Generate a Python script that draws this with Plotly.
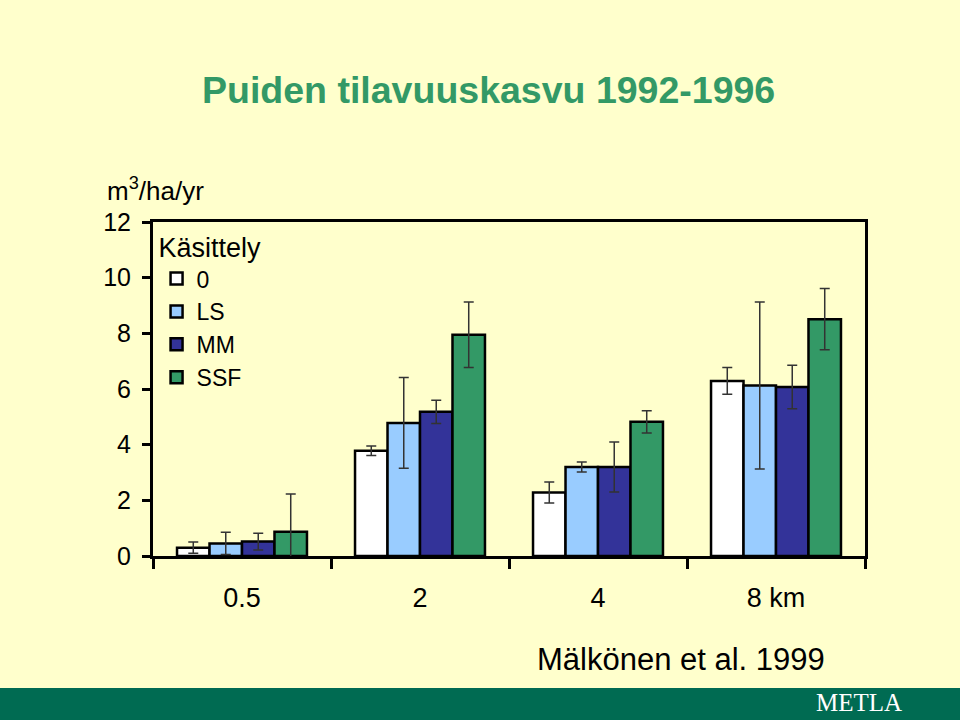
import plotly.graph_objects as go

categories = ["0.5", "2", "4", "8 km"]
series_names = ["0", "LS", "MM", "SSF"]
values_0 = [0.30, 3.78, 2.28, 6.29]
values_LS = [0.45, 4.78, 3.20, 6.13]
values_MM = [0.52, 5.18, 3.20, 6.07]
values_SSF = [0.87, 7.95, 4.82, 8.51]
err_0 = [0.20, 0.17, 0.38, 0.48]
err_LS = [0.40, 1.63, 0.18, 3.00]
err_MM = [0.30, 0.42, 0.90, 0.78]
err_SSF = [1.36, 1.18, 0.40, 1.10]
colors = ["#FFFFFF", "#99CCFF", "#333399", "#339966"]

BG = "#FFFFCC"
FONT = "Liberation Sans, Arial, sans-serif"

fig = go.Figure()
for name, vals, errs, col in zip(series_names,
                                 [values_0, values_LS, values_MM, values_SSF],
                                 [err_0, err_LS, err_MM, err_SSF], colors):
    fig.add_trace(go.Bar(
        x=categories, y=vals, name=name,
        marker=dict(color=col, line=dict(color="black", width=2.5)),
        error_y=dict(type="data", array=errs, visible=True,
                     color="#333333", thickness=1.5, width=5),
    ))

fig.update_layout(
    width=960, height=720,
    paper_bgcolor=BG, plot_bgcolor=BG,
    margin=dict(l=153, r=95, t=222, b=164, autoexpand=False),
    barmode="group", bargap=0.27, bargroupgap=0,
    font=dict(family=FONT, color="black", size=24),
    title=dict(text="<b>Puiden tilavuuskasvu 1992-1996</b>",
               x=0.509, xanchor="center", y=0.875, yanchor="middle",
               font=dict(family=FONT, size=37.5, color="#339966")),
    showlegend=True,
    legend=dict(
        title=dict(text="Käsittely", font=dict(size=27)),
        font=dict(size=23),
        x=0.005, y=1.0, xanchor="left", yanchor="top",
        bgcolor="rgba(0,0,0,0)", borderwidth=0,
        tracegroupgap=0,
    ),
    xaxis=dict(
        type="category", showline=True, linecolor="black", linewidth=3,
        mirror=True, ticks="outside", tickson="boundaries", ticklen=10,
        tickwidth=3, tickcolor="black", showgrid=False,
        tickfont=dict(size=27), ticklabelstandoff=16,
    ),
    yaxis=dict(
        range=[0, 12], dtick=2, showline=True, linecolor="black", linewidth=3,
        mirror=True, ticks="outside", ticklen=8, tickwidth=3,
        tickcolor="black", showgrid=False, zeroline=False,
        tickfont=dict(size=25), ticklabelstandoff=6,
    ),
    shapes=[dict(type="rect", xref="paper", yref="paper",
                 x0=-0.22, x1=1.14, y0=(556 - 688) / 334, y1=(556 - 725) / 334,
                 fillcolor="#006B52", line=dict(width=0), layer="below")],
    annotations=[
        dict(text="m<sup>3</sup>/ha/yr", xref="paper", yref="paper",
             x=(105 - 153) / 712, y=(556 - 190) / 334, xanchor="left",
             yanchor="middle", showarrow=False, font=dict(size=26)),
        dict(text="Mälkönen et al. 1999", xref="paper", yref="paper",
             x=(535 - 153) / 712, y=(556 - 659) / 334, xanchor="left",
             yanchor="middle", showarrow=False, font=dict(size=31)),
        dict(text="METLA", xref="paper", yref="paper",
             x=(859 - 153) / 712, y=(556 - 702) / 334, xanchor="center",
             yanchor="middle", showarrow=False,
             font=dict(family="Liberation Serif, Times New Roman, serif",
                       size=25, color="white")),
    ],
)

fig.write_html("out.html")
